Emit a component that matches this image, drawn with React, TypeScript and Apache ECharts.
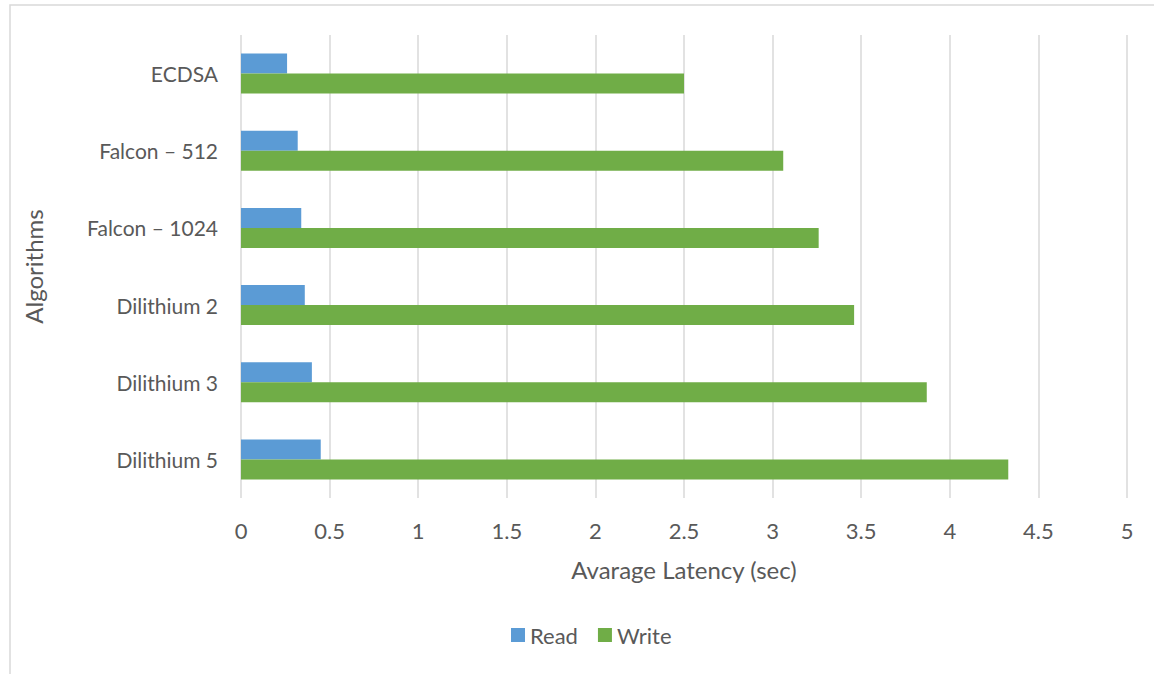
import React, { useEffect, useRef } from "react";
import * as echarts from "echarts";

const categories = ["ECDSA", "Falcon – 512", "Falcon – 1024", "Dilithium 2", "Dilithium 3", "Dilithium 5"];
const readValues = [0.26, 0.32, 0.34, 0.36, 0.4, 0.45];
const writeValues = [2.5, 3.06, 3.26, 3.46, 3.87, 4.33];
const seriesNames = ["Read", "Write"];
const xAxisTitle = "Avarage Latency (sec)";
const yAxisTitle = "Algorithms";

const FONT = "Lato, 'Open Sans', sans-serif";
const TEXT = "#595959";

export default function App() {
  const ref = useRef<HTMLDivElement>(null);
  useEffect(() => {
    if (!ref.current) return;
    const chart = echarts.init(ref.current, undefined, { renderer: "svg" });
    chart.setOption({
      animation: false,
      backgroundColor: "#ffffff",
      textStyle: { fontFamily: FONT, color: TEXT },
      graphic: [
        {
          type: "rect",
          shape: { x: 10, y: 5, width: 1160, height: 690 },
          style: { fill: "none", stroke: "#d9d9d9", lineWidth: 1.5 },
          silent: true,
        },
      ],
      grid: { left: 241, right: 27, top: 35, bottom: 176, containLabel: false },
      legend: {
        data: seriesNames,
        top: 624,
        left: 511,
        padding: 0,
        itemWidth: 14,
        itemHeight: 14,
        itemGap: 20,
        icon: "rect",
        textStyle: { fontFamily: FONT, fontSize: 22, color: TEXT },
      },
      xAxis: {
        type: "value",
        min: 0,
        max: 5,
        interval: 0.5,
        name: xAxisTitle,
        nameLocation: "middle",
        nameGap: 59,
        nameTextStyle: { fontFamily: FONT, fontSize: 24, color: TEXT },
        axisLine: { show: false },
        axisTick: { show: false },
        axisLabel: { fontFamily: FONT, fontSize: 22, color: TEXT, margin: 21 },
        splitLine: { show: true, lineStyle: { color: "#d9d9d9", width: 1.5 } },
      },
      yAxis: {
        type: "category",
        data: categories,
        inverse: true,
        name: yAxisTitle,
        nameLocation: "middle",
        nameGap: 196,
        nameRotate: 90,
        nameTextStyle: { fontFamily: FONT, fontSize: 24, color: TEXT },
        axisLine: { show: false },
        axisTick: { show: false },
        axisLabel: { fontFamily: FONT, fontSize: 21, color: TEXT, margin: 23 },
        splitLine: { show: false },
      },
      series: [
        {
          name: seriesNames[0],
          type: "bar",
          data: readValues,
          barWidth: 20,
          barGap: "0%",
          itemStyle: { color: "#5b9bd5" },
        },
        {
          name: seriesNames[1],
          type: "bar",
          data: writeValues,
          barWidth: 20,
          barGap: "0%",
          itemStyle: { color: "#70ad47" },
        },
      ],
    });
    return () => chart.dispose();
  }, []);
  return (
    <div
      ref={ref}
      style={{ position: "fixed", left: 0, top: 0, width: 1154, height: 674 }}
    />
  );
}
